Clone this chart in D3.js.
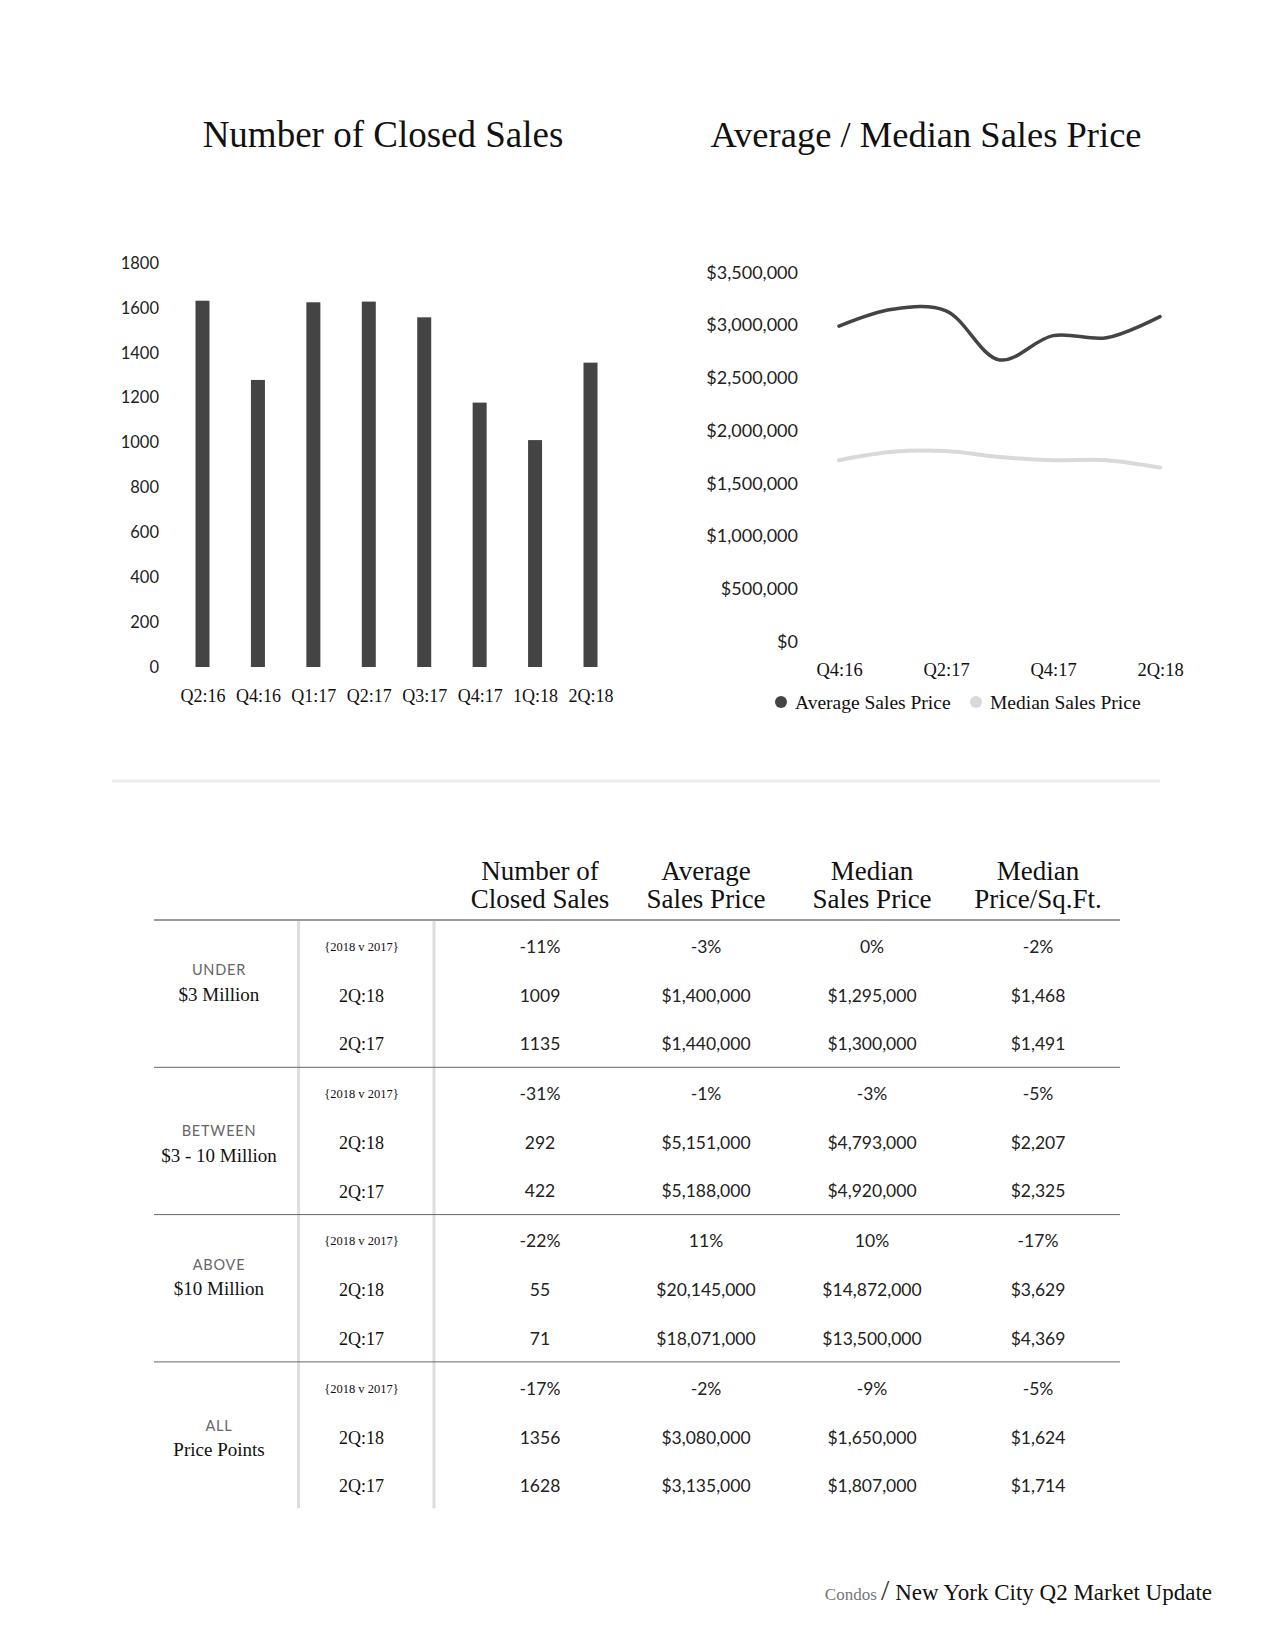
<!DOCTYPE html>
<html>
<head>
<meta charset="utf-8">
<script src="https://cdn.jsdelivr.net/npm/d3@7"></script>
<style>
  html, body { margin: 0; padding: 0; background: #fff; }
  svg { display: block; }
</style>
</head>
<body>
<svg id="chart" width="1275" height="1650"></svg>
<script>
// ---------- DATA ----------
const barCategories = ["Q2:16", "Q4:16", "Q1:17", "Q2:17", "Q3:17", "Q4:17", "1Q:18", "2Q:18"];
const closedSales = [1632, 1279, 1625, 1628, 1558, 1178, 1011, 1356];
const barTicks = [0, 200, 400, 600, 800, 1000, 1200, 1400, 1600, 1800];

const lineCategories = ["Q4:16", "Q1:17", "Q2:17", "Q3:17", "Q4:17", "1Q:18", "2Q:18"];
const lineTickLabels = ["Q4:16", "Q2:17", "Q4:17", "2Q:18"];
const averagePrice = [2990000, 3150000, 3135000, 2670000, 2900000, 2880000, 3080000];
const medianPrice = [1720000, 1800000, 1807000, 1750000, 1720000, 1720000, 1650000];
const priceTicks = [0, 500000, 1000000, 1500000, 2000000, 2500000, 3000000, 3500000];
const legendLabels = ["Average Sales Price", "Median Sales Price"];

const tableHeaders = [["Number of", "Closed Sales"], ["Average", "Sales Price"], ["Median", "Sales Price"], ["Median", "Price/Sq.Ft."]];
const segmentTop = ["UNDER", "BETWEEN", "ABOVE", "ALL"];
const segmentBottom = ["$3 Million", "$3 - 10 Million", "$10 Million", "Price Points"];
const rowLabels = ["{2018 v 2017}", "2Q:18", "2Q:17"];
const underValues = [["-11%", "-3%", "0%", "-2%"], ["1009", "$1,400,000", "$1,295,000", "$1,468"], ["1135", "$1,440,000", "$1,300,000", "$1,491"]];
const betweenValues = [["-31%", "-1%", "-3%", "-5%"], ["292", "$5,151,000", "$4,793,000", "$2,207"], ["422", "$5,188,000", "$4,920,000", "$2,325"]];
const aboveValues = [["-22%", "11%", "10%", "-17%"], ["55", "$20,145,000", "$14,872,000", "$3,629"], ["71", "$18,071,000", "$13,500,000", "$4,369"]];
const allValues = [["-17%", "-2%", "-9%", "-5%"], ["1356", "$3,080,000", "$1,650,000", "$1,624"], ["1628", "$3,135,000", "$1,807,000", "$1,714"]];

const titles = ["Number of Closed Sales", "Average / Median Sales Price"];
const footerLeft = "Condos";
const footerRight = "New York City Q2 Market Update";

// ---------- STYLE ----------
const SERIF = "'Liberation Serif', 'DejaVu Serif', serif";
const SANS = "Lato, 'Open Sans', sans-serif";
const DARK = "#444444";
const LIGHT = "#d9d9d9";

const svg = d3.select("#chart");

// Titles
svg.append("text").attr("x", 383).attr("y", 147).attr("text-anchor", "middle")
  .attr("font-family", SERIF).attr("font-size", 37).attr("fill", "#111").text(titles[0]);
svg.append("text").attr("x", 926).attr("y", 147).attr("text-anchor", "middle")
  .attr("font-family", SERIF).attr("font-size", 36.5).attr("fill", "#111").text(titles[1]);

// ---------- BAR CHART ----------
const yBar = d3.scaleLinear().domain([0, 1800]).range([667, 263]);
const xBar = d3.scalePoint().domain(barCategories).range([202.5, 590.5]);
const barW = 14;

const barG = svg.append("g");
barG.selectAll("rect").data(barCategories).join("rect")
  .attr("x", d => xBar(d) - barW / 2)
  .attr("y", (d, i) => yBar(closedSales[i]))
  .attr("width", barW)
  .attr("height", (d, i) => yBar(0) - yBar(closedSales[i]))
  .attr("fill", DARK);

const yAxisBar = svg.append("g").attr("transform", "translate(159,0)")
  .call(d3.axisLeft(yBar).tickValues(barTicks).tickSize(0).tickPadding(0).tickFormat(d3.format("d")));
yAxisBar.select(".domain").remove();
yAxisBar.selectAll("text").attr("font-family", SANS).attr("font-size", 16.5).attr("fill", "#222");

const xAxisBar = svg.append("g").attr("transform", "translate(0,689)")
  .call(d3.axisBottom(xBar).tickSize(0).tickPadding(0));
xAxisBar.select(".domain").remove();
xAxisBar.selectAll("text").attr("font-family", SERIF).attr("font-size", 18).attr("fill", "#111").attr("dy", "0.71em");

// ---------- LINE CHART ----------
const yLine = d3.scaleLinear().domain([0, 3500000]).range([641.7, 272.3]);
const xLine = d3.scalePoint().domain(lineCategories).range([839, 1160]);

const yAxisLine = svg.append("g").attr("transform", "translate(798,0)")
  .call(d3.axisLeft(yLine).tickValues(priceTicks).tickSize(0).tickPadding(0)
    .tickFormat(d => "$" + d3.format(",")(d)));
yAxisLine.select(".domain").remove();
yAxisLine.selectAll("text").attr("font-family", SANS).attr("font-size", 18).attr("fill", "#222");

const xAxisLine = svg.append("g").attr("transform", "translate(0,663)")
  .call(d3.axisBottom(xLine).tickValues(lineTickLabels).tickSize(0).tickPadding(0));
xAxisLine.select(".domain").remove();
xAxisLine.selectAll("text").attr("font-family", SERIF).attr("font-size", 18.5).attr("fill", "#111").attr("dy", "0.71em");

const lineGen = d3.line()
  .x((d, i) => xLine(lineCategories[i]))
  .y(d => yLine(d))
  .curve(d3.curveCatmullRom.alpha(0.5));

svg.append("path").datum(medianPrice).attr("d", lineGen)
  .attr("fill", "none").attr("stroke", LIGHT).attr("stroke-width", 4).attr("stroke-linecap", "round");
svg.append("path").datum(averagePrice).attr("d", lineGen)
  .attr("fill", "none").attr("stroke", DARK).attr("stroke-width", 3.5).attr("stroke-linecap", "round");

// Legend
const legendColors = [DARK, LIGHT];
const legendX = [781, 976];
const legend = svg.append("g").selectAll("g").data(legendLabels).join("g")
  .attr("transform", (d, i) => `translate(${legendX[i]},702)`);
legend.append("circle").attr("r", 6).attr("fill", (d, i) => legendColors[i]);
legend.append("text").attr("x", 14).attr("y", 6.5)
  .attr("font-family", SERIF).attr("font-size", 19.5).attr("fill", "#111").text(d => d);

// Separator
svg.append("line").attr("x1", 112).attr("x2", 1160).attr("y1", 781).attr("y2", 781)
  .attr("stroke", "#ebebeb").attr("stroke-width", 3);

// ---------- TABLE ----------
const groups = [underValues, betweenValues, aboveValues, allValues];
const tableTop = 920;
const groupH = 147.3;
const colX = d3.scalePoint().domain(d3.range(4)).range([540, 1038]);
const rowOffsets = [26.5, 75.5, 124];
const labelOffsets = [[50, 74], [64, 88], [50, 74], [64, 87]];

// Headers
const hdr = svg.append("g").selectAll("text").data(tableHeaders).join("text")
  .attr("text-anchor", "middle").attr("font-family", SERIF).attr("font-size", 27).attr("fill", "#111")
  .attr("x", (d, i) => colX(i));
hdr.append("tspan").attr("y", 880).attr("x", (d, i) => colX(i)).text(d => d[0]);
hdr.append("tspan").attr("y", 908).attr("x", (d, i) => colX(i)).text(d => d[1]);

// Vertical dividers
const tableBottom = tableTop + groupH * 4 - 1;
[298.5, 434].forEach(x => {
  svg.append("line").attr("x1", x).attr("x2", x).attr("y1", tableTop).attr("y2", tableBottom)
    .attr("stroke", "#dddddd").attr("stroke-width", 3);
});

// Top rule
svg.append("line").attr("x1", 154).attr("x2", 1120).attr("y1", tableTop).attr("y2", tableTop)
  .attr("stroke", "#9a9a9a").attr("stroke-width", 2);

// Group separators
svg.append("g").selectAll("line").data(d3.range(1, 4)).join("line")
  .attr("x1", 154).attr("x2", 1120)
  .attr("y1", i => tableTop + i * groupH).attr("y2", i => tableTop + i * groupH)
  .attr("stroke", "#666").attr("stroke-width", 1);

const gSel = svg.append("g").selectAll("g").data(groups).join("g")
  .attr("transform", (d, gi) => `translate(0,${tableTop + gi * groupH})`);

// Segment labels
gSel.append("text").attr("x", 219).attr("y", (d, gi) => labelOffsets[gi][0]).attr("dy", "0.35em")
  .attr("text-anchor", "middle").attr("font-family", SANS).attr("font-size", 14.5)
  .attr("letter-spacing", 0.8).attr("fill", "#666").text((d, gi) => segmentTop[gi]);
gSel.append("text").attr("x", 219).attr("y", (d, gi) => labelOffsets[gi][1]).attr("dy", "0.35em")
  .attr("text-anchor", "middle").attr("font-family", SERIF).attr("font-size", 19)
  .attr("fill", "#111").text((d, gi) => segmentBottom[gi]);

// Row labels and values
gSel.each(function (vals) {
  const g = d3.select(this);
  g.selectAll("text.rl").data(rowLabels).join("text").attr("class", "rl")
    .attr("x", 361.5).attr("y", (d, ri) => rowOffsets[ri]).attr("dy", "0.35em")
    .attr("text-anchor", "middle").attr("font-family", SERIF)
    .attr("font-size", (d, ri) => ri === 0 ? 12.5 : 18).attr("fill", "#111").text(d => d);
  vals.forEach((row, ri) => {
    g.selectAll(`text.v${ri}`).data(row).join("text").attr("class", `v${ri}`)
      .attr("x", (d, ci) => colX(ci)).attr("y", rowOffsets[ri]).attr("dy", "0.35em")
      .attr("text-anchor", "middle").attr("font-family", SANS).attr("font-size", 17.5)
      .attr("fill", "#222").text(d => d);
  });
});

// ---------- FOOTER ----------
const foot = svg.append("text").attr("x", 1212).attr("y", 1600).attr("text-anchor", "end")
  .attr("font-family", SERIF).attr("fill", "#111");
foot.append("tspan").attr("font-size", 17).attr("fill", "#777").text(footerLeft + " ");
foot.append("tspan").attr("font-size", 30).attr("fill", "#333").attr("font-weight", 300).text("/");
foot.append("tspan").attr("font-size", 23).attr("fill", "#111").text(" " + footerRight);
</script>
</body>
</html>
